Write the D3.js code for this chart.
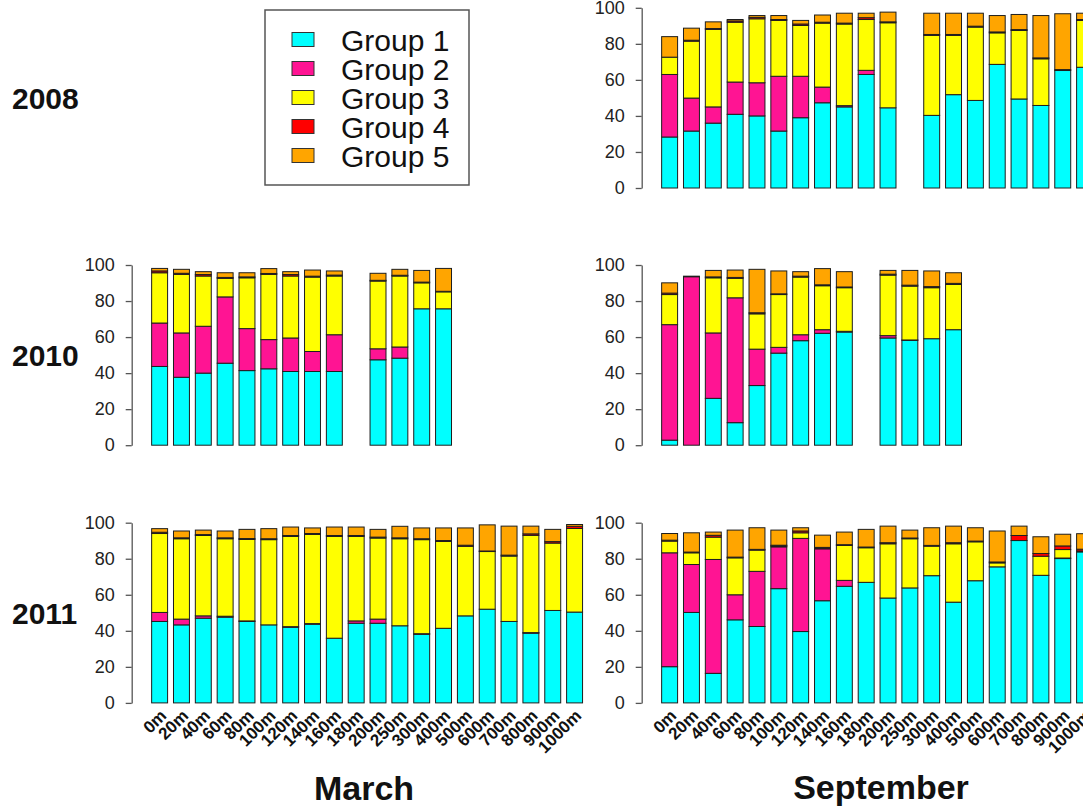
<!DOCTYPE html>
<html>
<head>
<meta charset="utf-8">
<script src="https://cdn.jsdelivr.net/npm/d3@7"></script>
<style>
  body { margin: 0; background: #fff; }
  svg { display: block; font-family: "Liberation Sans", Arial, Helvetica, sans-serif; }
  .ytick text { font-size: 18px; fill: #222; }
  .ytick path, .ytick line { stroke: #555; stroke-width: 1.3; }
</style>
</head>
<body>
<div id="chart"></div>
<script>
// depth categories (x axis)
var categories = ["0m", "20m", "40m", "60m", "80m", "100m", "120m", "140m", "160m", "180m",
  "200m", "250m", "300m", "400m", "500m", "600m", "700m", "800m", "900m", "1000m"];
var groups = ["Group 1", "Group 2", "Group 3", "Group 4", "Group 5"];
var colors = ["#00FFFF", "#FF1493", "#FFFF00", "#FF0000", "#FFA500"];
var yTicks = [0, 20, 40, 60, 80, 100];

// percentages per group (rows = Group 1..5), null = no sample
var sep2008 = [
  [28.3, 31.6, 36, 40.9, 40, 31.6, 39, 47.3, 45, 63, 44.5, null, 40.3, 51.8, 48.6, 68.6, 49.4, 45.8, 65.2, 67],
  [34.7, 18.3, 9, 17.9, 18.4, 30.4, 23, 8.7, 0.7, 2.3, 0, null, 0, 0, 0, 0, 0, 0, 0, 0],
  [9.6, 31.6, 43, 33.2, 35.5, 31, 28.2, 35.5, 45.3, 28.2, 47.2, null, 44.4, 32.9, 40.7, 17.5, 38, 25.9, 0.5, 26],
  [0, 0.5, 0.5, 0.7, 0.8, 0.5, 0.8, 0.5, 0.5, 1, 0.5, null, 0.5, 0.5, 0.5, 0.5, 0.5, 0.5, 0, 0.5],
  [11.4, 6.7, 3.7, 0.8, 1, 2.2, 2, 4, 5.5, 2.5, 5.4, null, 11.8, 11.8, 7.2, 9.1, 8.4, 23.5, 31, 3.5]
];
var mar2010 = [
  [43.7, 37.7, 40, 45.5, 41.4, 42.4, 40.9, 40.9, 40.9, null, 47.4, 48.3, 75.7, 75.7, null, null, null, null, null, null],
  [24.1, 24.6, 26, 36.8, 23.3, 16.2, 18.6, 11.1, 20.4, null, 6.1, 6.2, 0, 0, null, null, null, null, null, null],
  [27.9, 32.5, 27.9, 10.3, 28.2, 36.2, 34.4, 41.3, 32.6, null, 37.6, 39.4, 14.4, 9.4, null, null, null, null, null, null],
  [1, 0.6, 0.8, 0.5, 0.5, 0.5, 0.8, 0.5, 0.5, null, 0.4, 0.4, 0.4, 0.3, null, null, null, null, null, null],
  [1.4, 2.2, 1.6, 2.6, 2.3, 2.7, 1.6, 3.4, 2.3, null, 3.9, 3.3, 6.5, 12.7, null, null, null, null, null, null]
];
var sep2010 = [
  [2.8, 0, 26, 12.5, 33.1, 51.1, 58, 62.1, 62.8, null, 59.5, 58.2, 59.1, 64.1, null, null, null, null, null, null],
  [64.1, 93.5, 36.3, 69.3, 20.2, 3.2, 3.3, 2, 0.4, null, 1.3, 0.2, 0, 0, null, null, null, null, null, null],
  [16.7, 0, 30.6, 10.8, 19.6, 29.3, 32, 24.4, 24.2, null, 33.6, 29.9, 28.3, 25.1, null, null, null, null, null, null],
  [0.8, 0, 0.5, 0.5, 0.6, 0.4, 0.5, 0.5, 0.4, null, 0.5, 0.5, 0.6, 0.6, null, null, null, null, null, null],
  [5.7, 0.3, 3.6, 4.1, 24.1, 12.7, 2.5, 9, 8.5, null, 2.1, 8.2, 8.7, 5.9, null, null, null, null, null, null]
];
var mar2011 = [
  [45.2, 43.3, 47, 47.6, 45.2, 43.3, 42, 43.7, 35.9, 44.2, 44.2, 42.8, 38.1, 41.4, 48.3, 52, 45.2, 38.7, 51.3, 50.4],
  [5, 3.2, 1.3, 0.5, 0.3, 0, 0.3, 0.3, 0, 1.3, 2.3, 0, 0.3, 0, 0, 0, 0, 0.3, 0, 0],
  [43.8, 44.6, 44.6, 43, 45.2, 47.3, 50.1, 49.5, 56.5, 46.9, 45, 48.3, 52.2, 48.2, 38.6, 32, 36.3, 54, 37.4, 46.4],
  [0.7, 0.5, 0.5, 0.5, 0.5, 0.5, 0.5, 0.5, 0.5, 0.5, 0.5, 0.5, 0.5, 0.5, 0.6, 0.3, 0.5, 0.8, 0.8, 1.2],
  [2, 3.8, 2.5, 3.8, 5.1, 5.6, 4.7, 3.1, 4.7, 4.7, 4.3, 6.4, 6, 7, 9.6, 14.5, 16.1, 4.3, 6.8, 1]
];
var sep2011 = [
  [20.1, 50.2, 16.4, 46.1, 42.4, 63.4, 39.6, 56.7, 64.7, 66.9, 58.2, 63.8, 70.6, 55.9, 67.8, 75.5, 90.1, 70.8, 80.1, 83.8],
  [63.2, 26.6, 63.2, 13.9, 30.6, 23.2, 51.7, 28.8, 3.3, 0, 0, 0, 0, 0, 0, 0, 0, 0, 0.3, 0],
  [6.5, 6.5, 12.4, 20.5, 11.8, 0.5, 3.1, 0.4, 19.4, 19.2, 30.1, 27.3, 16.4, 32.4, 21.6, 2.2, 0, 10.6, 4.7, 0.5],
  [0.5, 0.4, 1, 0.4, 0.4, 0.4, 1, 0.4, 0.4, 0.4, 0.6, 0.4, 0.4, 0.6, 0.4, 0.5, 2.8, 1.5, 2, 1],
  [3.7, 10.7, 1.8, 15, 12, 8.4, 1.8, 6.8, 7, 9.8, 9.2, 4.4, 9.8, 9.2, 7.4, 17.2, 5.2, 9.3, 6.5, 8.6]
];

var svgWidth = 1083;
var svgHeight = 810;

// panel layout (R-like multi panel: 3 rows x 2 columns)
var axisX = [131.7, 641.7];
var rowTop = [7.8, 265, 522.7];
var plotH = 180.2;
var step = 21.84;
var yearLabels = ["2008", "2010", "2011"];

var panels = [
  { values: sep2008, col: 1, row: 0, xlabels: false },
  { values: mar2010, col: 0, row: 1, xlabels: false },
  { values: sep2010, col: 1, row: 1, xlabels: false },
  { values: mar2011, col: 0, row: 2, xlabels: true },
  { values: sep2011, col: 1, row: 2, xlabels: true }
];

var svg = d3.select("#chart")
  .append("svg")
  .attr("width", svgWidth)
  .attr("height", svgHeight);

var stack = d3.stack().keys(d3.range(groups.length));

panels.forEach(function(p) {
  var x0 = axisX[p.col] + 17;
  var x = d3.scaleBand()
    .domain(categories)
    .range([x0, x0 + step * categories.length])
    .paddingInner(0.27)
    .paddingOuter(0.135);

  var y = d3.scaleLinear()
    .domain([0, 100])
    .range([rowTop[p.row] + plotH, rowTop[p.row]]);

  // rows for the stack, skip missing bars
  var rows = [];
  categories.forEach(function(c, i) {
    if (p.values[0][i] == null) return;
    var r = { cat: c };
    p.values.forEach(function(g, k) { r[k] = g[i]; });
    rows.push(r);
  });

  var series = stack(rows);
  var g = svg.append("g");

  g.selectAll("g.layer")
    .data(series)
    .enter()
    .append("g")
    .attr("class", "layer")
    .attr("fill", function(s) { return colors[s.key]; })
    .selectAll("rect")
    .data(function(s) { return s; })
    .enter()
    .append("rect")
    .attr("x", function(d) { return x(d.data.cat); })
    .attr("width", x.bandwidth())
    .attr("y", function(d) { return y(d[1]); })
    .attr("height", function(d) { return y(d[0]) - y(d[1]); })
    .attr("stroke", "#1e1e1e")
    .attr("stroke-width", 1);

  // y axis
  svg.append("g")
    .attr("class", "ytick")
    .attr("transform", `translate(${axisX[p.col]}, 0)`)
    .call(d3.axisLeft(y).tickValues(yTicks).tickSize(6).tickSizeOuter(0).tickPadding(11))
    .call(function(a) { a.select(".domain").attr("fill", "none"); });

  if (p.xlabels) {
    svg.append("g").selectAll("text")
      .data(categories)
      .enter()
      .append("text")
      .attr("transform", function(d) {
        return `translate(${x(d) + x.bandwidth() / 2 + 4}, ${y(0) + 10}) rotate(-45)`;
      })
      .attr("text-anchor", "end")
      .attr("dominant-baseline", "central")
      .style("font-size", "17px")
      .style("font-weight", "bold")
      .style("fill", "#111")
      .text(function(d) { return d; });
  }
});

// year labels on the left
yearLabels.forEach(function(t, r) {
  svg.append("text")
    .attr("x", 12)
    .attr("y", rowTop[r] + plotH / 2 + 11)
    .style("font-size", "30px")
    .style("font-weight", "bold")
    .style("fill", "#111")
    .text(t);
});

// month titles
svg.append("text")
  .attr("x", 364)
  .attr("y", 800)
  .attr("text-anchor", "middle")
  .style("font-size", "34px")
  .style("font-weight", "bold")
  .style("fill", "#111")
  .text("March");

svg.append("text")
  .attr("x", 881)
  .attr("y", 799)
  .attr("text-anchor", "middle")
  .style("font-size", "34px")
  .style("font-weight", "bold")
  .style("fill", "#111")
  .text("September");

// legend
var legend = svg.append("g");
legend.append("rect")
  .attr("x", 265)
  .attr("y", 10)
  .attr("width", 204)
  .attr("height", 175)
  .attr("fill", "none")
  .attr("stroke", "#555")
  .attr("stroke-width", 1.5);

var items = legend.selectAll("g.item")
  .data(groups)
  .enter()
  .append("g")
  .attr("class", "item")
  .attr("transform", function(d, i) { return `translate(0, ${39.5 + i * 29})`; });

items.append("rect")
  .attr("x", 292)
  .attr("y", -7)
  .attr("width", 22)
  .attr("height", 14)
  .attr("fill", function(d, i) { return colors[i]; })
  .attr("stroke", "#333")
  .attr("stroke-width", 1);

items.append("text")
  .attr("x", 341)
  .attr("y", 11.5)
  .style("font-size", "30px")
  .style("fill", "#111")
  .text(function(d) { return d; });
</script>
</body>
</html>
